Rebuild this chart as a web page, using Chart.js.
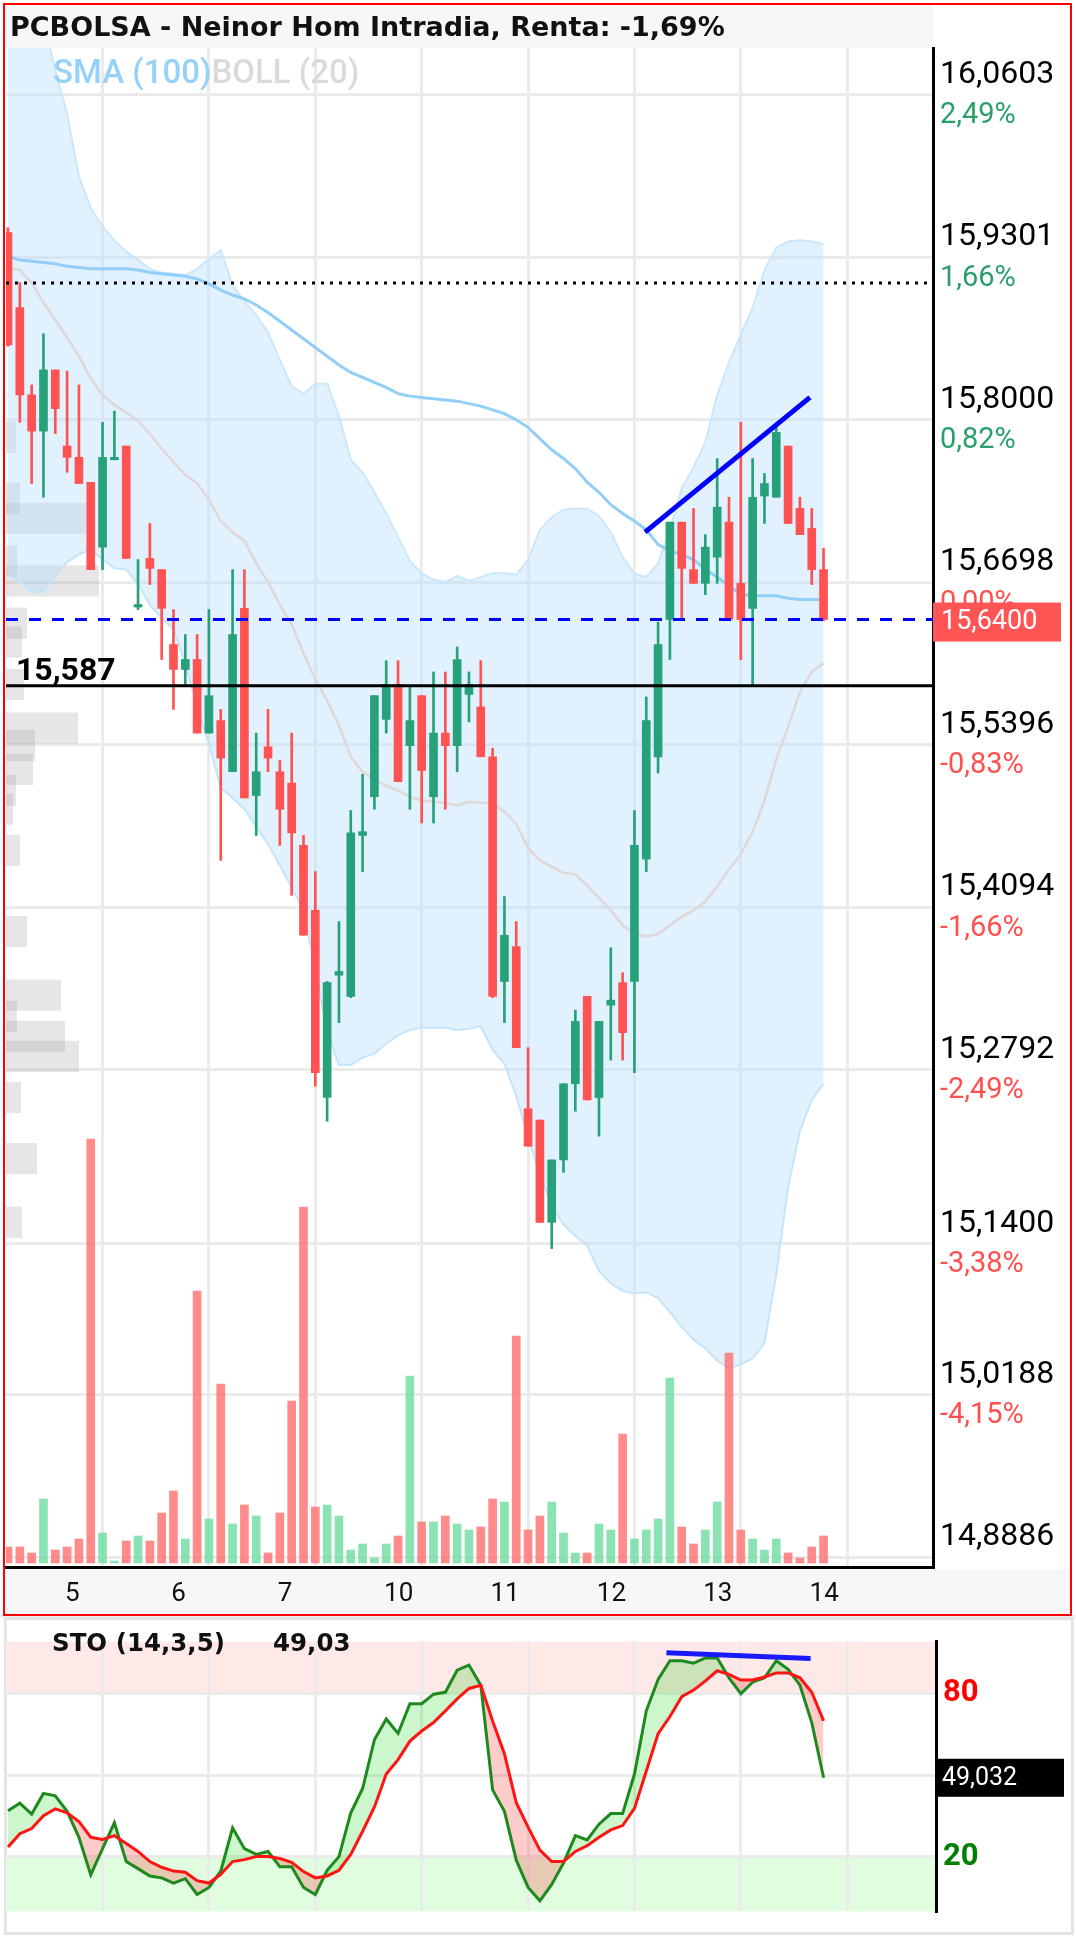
<!DOCTYPE html>
<html>
<head>
<meta charset="utf-8">
<title>PCBOLSA - Neinor Hom Intradia</title>
<script src="https://cdn.jsdelivr.net/npm/chart.js@4.4.1/dist/chart.umd.min.js"></script>
<style>
  html, body { margin: 0; padding: 0; background: #fff; }
  body { width: 1076px; height: 1937px; position: relative; overflow: hidden; font-family: Roboto, "Noto Sans", sans-serif; }
  .abs { position: absolute; }
  #titlebar { left: 5px; top: 5px; width: 928px; height: 43px; background: #f7f7f7; }
  #xstrip { left: 5px; top: 1569px; width: 1066px; height: 46px; background: #f7f7f7; }
  #gap { left: 0; top: 1615px; width: 1076px; height: 3px; background: #efefef; }
  #stoframe { left: 4px; top: 1617px; width: 1070px; height: 318px; box-sizing: border-box; border: 3px solid #e4e4e4; background: #fff; }
  #redframe { left: 3px; top: 3px; width: 1069px; height: 1613px; box-sizing: border-box; border: 2px solid #ff0000; z-index: 5; pointer-events: none; }
  #title { left: 10px; top: 9px; font-family: "DejaVu Sans", sans-serif; font-size: 27px; font-weight: bold; color: #111; line-height: 36px; white-space: nowrap; z-index: 6; }
  #legend { left: 53px; top: 52px; font-size: 33px; font-weight: 500; line-height: 40px; white-space: nowrap; z-index: 6; }
  #legend .sma { color: #96d1f8; }
  #legend .boll { color: #dadada; }
  #stolabel, #stoval { top: 1628px; font-family: "DejaVu Sans", sans-serif; font-size: 24.5px; font-weight: bold; line-height: 30px; color: #111; white-space: nowrap; z-index: 6; }
  #stolabel { left: 52px; }
  #stoval { left: 273px; }
  canvas { z-index: 2; }
</style>
</head>
<body>
<div id="titlebar" class="abs"></div>
<div id="xstrip" class="abs"></div>
<div id="gap" class="abs"></div>
<div id="stoframe" class="abs"></div>
<canvas id="main" class="abs" width="1076" height="1616" style="left:0;top:0"></canvas>
<canvas id="sto" class="abs" width="1076" height="321" style="left:0;top:1616px"></canvas>
<div id="redframe" class="abs"></div>
<div id="title" class="abs">PCBOLSA - Neinor Hom Intradia, Renta: -1,69%</div>
<div id="legend" class="abs"><span class="sma">SMA (100)</span><span class="boll">BOLL (20)</span></div>
<div id="stolabel" class="abs">STO (14,3,5)</div>
<div id="stoval" class="abs"></div>
<script>
// ---- hourly candles, days 4 (tail) .. 14 ----
const candleOpen = [15.950,15.890,15.820,15.791,15.840,15.779,15.770,15.750,15.698,15.768,
  15.779,15.650,15.689,15.680,15.620,15.600,15.608,15.549,15.559,15.518,
  15.649,15.499,15.538,15.518,15.509,15.459,15.407,15.257,15.355,15.338,
  15.467,15.498,15.560,15.588,15.539,15.579,15.498,15.549,15.539,15.580,
  15.570,15.530,15.350,15.378,15.248,15.239,15.157,15.207,15.268,15.338,
  15.257,15.331,15.349,15.350,15.448,15.530,15.640,15.718,15.680,15.669,
  15.690,15.718,15.669,15.649,15.739,15.738,15.779,15.729,15.713,15.680];
const candleHigh = [15.954,15.910,15.828,15.869,15.840,15.839,15.828,15.750,15.798,15.807,
  15.779,15.688,15.717,15.680,15.648,15.628,15.628,15.648,15.568,15.680,
  15.680,15.549,15.568,15.527,15.549,15.467,15.438,15.350,15.398,15.487,
  15.516,15.579,15.607,15.607,15.587,15.579,15.598,15.598,15.618,15.598,
  15.607,15.537,15.418,15.398,15.297,15.239,15.207,15.268,15.327,15.338,
  15.318,15.377,15.357,15.487,15.578,15.638,15.718,15.718,15.729,15.708,
  15.769,15.738,15.798,15.769,15.757,15.797,15.779,15.738,15.729,15.697];
const candleLow = [15.859,15.798,15.749,15.738,15.789,15.758,15.749,15.680,15.680,15.768,
  15.689,15.648,15.668,15.608,15.568,15.587,15.549,15.549,15.447,15.518,
  15.497,15.467,15.518,15.459,15.419,15.387,15.266,15.238,15.317,15.337,
  15.438,15.488,15.549,15.510,15.488,15.477,15.477,15.488,15.518,15.558,
  15.530,15.337,15.317,15.297,15.218,15.157,15.136,15.197,15.246,15.255,
  15.226,15.287,15.287,15.277,15.438,15.517,15.608,15.640,15.669,15.660,
  15.669,15.640,15.608,15.588,15.717,15.738,15.717,15.708,15.668,15.639];
const candleClose = [15.860,15.820,15.791,15.840,15.809,15.770,15.749,15.680,15.770,15.770,
  15.689,15.652,15.681,15.649,15.600,15.608,15.549,15.579,15.529,15.628,
  15.497,15.518,15.529,15.488,15.469,15.387,15.277,15.349,15.358,15.469,
  15.470,15.579,15.588,15.510,15.559,15.519,15.549,15.539,15.608,15.588,
  15.530,15.338,15.387,15.297,15.218,15.157,15.207,15.268,15.318,15.255,
  15.318,15.335,15.309,15.459,15.559,15.620,15.718,15.681,15.669,15.698,
  15.730,15.640,15.640,15.738,15.749,15.790,15.717,15.708,15.680,15.640];
const volume = [4000,4000,2500,16000,3250,4000,6000,106000,7500,500,
  5500,6750,5500,12500,18000,6000,68000,11000,44750,9750,
  14500,11750,2500,12500,40500,89000,14000,14500,11750,3250,
  4750,1250,4750,6750,46750,10250,10250,11750,9750,8250,
  9000,16000,15250,56750,8250,11750,15250,7500,2500,2500,
  9750,8250,32250,6000,8250,11000,46250,9000,4750,8250,
  15250,52500,8250,6000,3250,6000,2500,1250,4000,6750];

// ---- indicators ----
const sma100 = [15.931,15.928,15.927,15.926,15.925,15.923,15.922,15.921,15.921,15.921,
  15.921,15.920,15.918,15.917,15.916,15.915,15.913,15.909,15.904,15.900,
  15.897,15.892,15.886,15.879,15.872,15.865,15.858,15.851,15.844,15.838,
  15.834,15.830,15.826,15.821,15.819,15.818,15.817,15.816,15.815,15.813,
  15.811,15.808,15.805,15.800,15.794,15.785,15.776,15.769,15.761,15.750,
  15.742,15.732,15.725,15.719,15.712,15.700,15.695,15.692,15.688,15.680,
  15.674,15.667,15.660,15.659,15.659,15.659,15.657,15.656,15.656,15.656];
const bollUpper = [16.160,16.150,16.140,16.120,16.080,16.045,15.995,15.970,15.955,15.944,
  15.935,15.928,15.921,15.918,15.917,15.916,15.921,15.929,15.936,15.908,
  15.895,15.884,15.870,15.848,15.827,15.821,15.829,15.829,15.803,15.768,
  15.758,15.742,15.725,15.706,15.687,15.677,15.672,15.670,15.675,15.671,
  15.674,15.677,15.677,15.676,15.688,15.712,15.722,15.728,15.729,15.729,
  15.723,15.710,15.690,15.677,15.674,15.685,15.712,15.745,15.762,15.782,
  15.820,15.846,15.868,15.890,15.920,15.938,15.943,15.944,15.943,15.941];
const bollMid = [15.921,15.920,15.910,15.894,15.880,15.866,15.851,15.833,15.820,15.812,
  15.806,15.799,15.789,15.777,15.766,15.756,15.749,15.736,15.719,15.710,
  15.703,15.685,15.670,15.652,15.636,15.613,15.592,15.575,15.555,15.530,
  15.518,15.512,15.507,15.503,15.498,15.495,15.494,15.493,15.491,15.494,
  15.493,15.493,15.486,15.476,15.457,15.447,15.442,15.437,15.436,15.427,
  15.417,15.407,15.395,15.388,15.386,15.388,15.395,15.402,15.407,15.414,
  15.426,15.440,15.452,15.470,15.495,15.528,15.554,15.582,15.598,15.605];
const bollLower = [15.676,15.670,15.662,15.662,15.675,15.686,15.692,15.696,15.688,15.681,
  15.680,15.668,15.652,15.641,15.632,15.605,15.570,15.540,15.505,15.497,
  15.488,15.474,15.460,15.443,15.425,15.407,15.360,15.310,15.283,15.283,
  15.289,15.292,15.300,15.307,15.311,15.313,15.313,15.313,15.311,15.312,
  15.314,15.295,15.284,15.258,15.225,15.195,15.170,15.155,15.146,15.138,
  15.118,15.108,15.102,15.100,15.101,15.096,15.085,15.073,15.063,15.056,
  15.046,15.040,15.043,15.048,15.060,15.115,15.185,15.230,15.255,15.268];
const stoK = [36.9,39.7,35.7,43.3,42.4,36.7,27.2,13.4,23.0,32.5,
  18.3,15.7,13.0,12.3,10.4,12.0,6.2,8.8,14.8,30.6,
  23.0,20.9,22.0,16.4,16.4,8.8,6.2,15.1,20.1,36.2,
  45.1,63.0,70.6,65.3,76.2,76.2,79.7,80.4,88.5,90.4,
  83.0,44.6,36.7,18.8,8.8,3.9,9.9,17.8,27.8,26.2,
  32.0,35.9,35.9,50.4,73.6,85.1,92.0,92.0,91.1,93.0,
  93.0,85.7,79.9,84.1,85.7,92.0,88.8,83.0,69.3,49.032];
const stoD = [23.6,28.5,30.4,35.1,37.6,36.2,33.0,27.2,26.4,27.8,
  24.9,22.0,18.3,16.2,14.8,14.4,11.3,10.4,13.6,18.3,
  19.0,20.1,20.1,19.4,18.0,14.6,12.3,13.0,15.1,20.9,
  29.4,38.3,50.4,55.7,62.5,66.2,69.3,73.6,78.0,81.8,
  83.0,69.9,57.8,39.9,30.9,22.5,18.3,18.3,22.0,24.1,
  27.2,29.9,31.5,37.8,51.5,65.2,71.5,78.8,81.2,84.6,
  88.3,87.0,84.9,84.9,86.0,87.5,87.5,85.7,80.4,69.9];

// ---- volume at price (left profile) ----
const profilePrice = [15.786,15.737,15.721,15.687,15.671,15.637,15.622,15.588,15.553,15.539,
  15.520,15.503,15.488,15.455,15.390,15.339,15.322,15.306,15.290,15.257,15.208,15.157];
const profileVol = [10,14,80,11,93,21,16,18,72,29,27,10,7,14,21,55,11,59,73,15,31,16];
const profileStep = 0.025;

// ---- axes / annotations ----
const priceTicks = [16.0603,15.9301,15.8000,15.6698,15.5396,15.4094,15.2792,15.1400,15.0188,14.8886];
const pctLabels = ['2,49%','1,66%','0,82%','0,00%','-0,83%','-1,66%','-2,49%','-3,38%','-4,15%',''];
const gridIdx = [8,17,26,35,44,53,62,71];
const dayStart = [6,15,24,33,42,51,60,69];
const dayLabels = ['5','6','7','10','11','12','13','14'];
const levelDotted = 15.9096;
const levelLast = 15.640;
const levelSupport = 15.587;
const trendX = [53.9, 67.85];
const trendY = [15.710, 15.818];
const stoTrendX = [55.7, 67.9];
const stoTrendY = [94.9, 92.8];
const stoTicks = [20, 50, 80];

const UP = '#26a17a', DOWN = '#ff5252';
const VOL_UP = 'rgba(110,220,160,0.8)', VOL_DOWN = 'rgba(255,110,110,0.8)';
const PCT_UP = '#2a9e6c', PCT_DOWN = '#ff4f4f';

Chart.defaults.font.family = 'Roboto';
Chart.defaults.color = '#000';

const xy = arr => arr.map((v, i) => ({ x: i, y: v }));
const fmt4 = v => v.toFixed(4).replace('.', ',');
const isUp = i => candleClose[i] >= candleOpen[i];
const candleColors = candleOpen.map((o, i) => isUp(i) ? UP : DOWN);
const volColors = candleOpen.map((o, i) => isUp(i) ? VOL_UP : VOL_DOWN);

const mainDecor = {
  id: 'mainDecor',
  beforeDatasetsDraw(chart) {
    const { ctx, chartArea: a, scales: { y, xp } } = chart;
    ctx.save();
    ctx.beginPath();
    ctx.rect(a.left, a.top, a.right - a.left, a.bottom - a.top);
    ctx.clip();
    ctx.fillStyle = 'rgba(140,140,140,0.22)';
    profilePrice.forEach((p, k) => {
      const top = y.getPixelForValue(p + profileStep / 2);
      const bottom = y.getPixelForValue(p - profileStep / 2);
      const w = xp.getPixelForValue(profileVol[k]) - xp.getPixelForValue(0);
      ctx.fillRect(a.left, top, w, bottom - top);
    });
    ctx.restore();
  },
  afterDatasetsDraw(chart) {
    const { ctx, chartArea: a, scales: { y } } = chart;
    const hline = (v, color, dash, width) => {
      const py = y.getPixelForValue(v);
      ctx.save();
      ctx.strokeStyle = color;
      ctx.lineWidth = width;
      ctx.setLineDash(dash);
      ctx.beginPath();
      ctx.moveTo(a.left, py);
      ctx.lineTo(a.right, py);
      ctx.stroke();
      ctx.restore();
      return py;
    };
    hline(levelDotted, '#000', [3, 6], 3);
    const pyLast = hline(levelLast, '#0000ff', [12, 11], 3);
    const pySup = hline(levelSupport, '#000', [], 3);

    ctx.save();
    // percentage change under each price tick
    ctx.font = '29px Roboto';
    ctx.textAlign = 'left';
    ctx.textBaseline = 'middle';
    priceTicks.forEach((v, k) => {
      const t = pctLabels[k];
      if (!t) return;
      ctx.fillStyle = (t.startsWith('-') || t === '0,00%') ? PCT_DOWN : PCT_UP;
      ctx.fillText(t, a.right + 7, y.getPixelForValue(v) + 21);
    });

    ctx.fillStyle = '#000';
    ctx.font = 'bold 32px Roboto';
    ctx.textBaseline = 'alphabetic';
    ctx.fillText(levelSupport.toFixed(3).replace('.', ','), 16, pySup - 6);

    // last price tag
    ctx.fillStyle = '#ff5555';
    ctx.fillRect(a.right, pyLast - 17, 128, 39);
    ctx.fillStyle = '#fff';
    ctx.font = '27px Roboto';
    ctx.textBaseline = 'middle';
    ctx.fillText(fmt4(candleClose[candleClose.length - 1]), a.right + 8, pyLast + 3);
    ctx.restore();
  }
};

const priceMin = 14.88081, priceMax = 16.09796;
const xMin = -0.17, xMax = 78.26;

new Chart(document.getElementById('main'), {
  type: 'line',
  data: {
    datasets: [
      { type: 'line', label: 'BOLL sup', data: xy(bollUpper), borderColor: '#cbe7fb', borderWidth: 2,
        pointRadius: 0, fill: { target: '+1' }, backgroundColor: 'rgba(180,220,250,0.4)', order: 9 },
      { type: 'line', label: 'BOLL inf', data: xy(bollLower), borderColor: '#cbe7fb', borderWidth: 2,
        pointRadius: 0, fill: false, order: 9 },
      { type: 'bar', label: 'Volumen', data: xy(volume), yAxisID: 'yv', backgroundColor: volColors,
        barThickness: 8, grouped: false, order: 7 },
      { type: 'line', label: 'BOLL (20)', data: xy(bollMid), borderColor: '#e0d8d8', borderWidth: 2.5,
        pointRadius: 0, fill: false, order: 6 },
      { type: 'line', label: 'SMA (100)', data: xy(sma100), borderColor: '#92cff8', borderWidth: 3,
        pointRadius: 0, fill: false, order: 5 },
      { type: 'bar', label: 'mecha', data: candleLow.map((l, i) => ({ x: i, y: [l, candleHigh[i]] })),
        backgroundColor: candleColors, barThickness: 2, grouped: false, order: 4 },
      { type: 'bar', label: 'cuerpo', data: candleOpen.map((o, i) => ({ x: i, y: [o, candleClose[i]] })),
        backgroundColor: candleColors, barThickness: 8, grouped: false, order: 3 },
      { type: 'line', label: 'tendencia', data: trendX.map((x, k) => ({ x, y: trendY[k] })),
        borderColor: '#0000ff', borderWidth: 5, pointRadius: 0, fill: false, order: 1 }
    ]
  },
  options: {
    responsive: false,
    animation: false,
    devicePixelRatio: 1,
    layout: { padding: { left: 6, top: 48, right: 0, bottom: 0 } },
    plugins: { legend: { display: false }, tooltip: { enabled: false } },
    scales: {
      x: {
        type: 'linear', position: 'bottom', min: xMin, max: xMax, offset: false, weight: 0,
        afterBuildTicks: s => { s.ticks = gridIdx.map(v => ({ value: v })); },
        afterFit: s => { s.height = 0; },
        ticks: { display: false },
        grid: { color: '#ebebeb', lineWidth: 3, drawTicks: false, offset: false },
        border: { display: true, color: '#000', width: 3 }
      },
      xl: {
        type: 'linear', position: 'bottom', min: xMin, max: xMax, offset: false, weight: 1,
        afterBuildTicks: s => { s.ticks = dayStart.map(v => ({ value: v })); },
        afterFit: s => { s.height = 49; },
        ticks: { align: 'start', labelOffset: -14, padding: 12, color: '#111', autoSkip: false, maxRotation: 0,
          font: { size: 26 }, callback: (v, i) => dayLabels[i] },
        grid: { display: false, drawTicks: false },
        border: { display: false }
      },
      xp: { type: 'linear', display: false, min: 0, max: 927 },
      y: {
        type: 'linear', position: 'right', min: priceMin, max: priceMax, weight: 1, beginAtZero: false,
        afterBuildTicks: s => { s.ticks = priceTicks.map(v => ({ value: v })); },
        afterFit: s => { s.width = 143; },
        ticks: { labelOffset: -20, padding: 7, color: '#000', autoSkip: false, font: { size: 32 }, callback: v => fmt4(v) },
        grid: { color: '#ebebeb', lineWidth: 3, drawTicks: false },
        border: { display: true, color: '#000', width: 3 }
      },
      yv: { type: 'linear', display: false, min: -1000, max: 378750, beginAtZero: false }
    }
  },
  plugins: [mainDecor]
});

// ---- stochastic panel ----
const stoDecor = {
  id: 'stoDecor',
  beforeDraw(chart) {
    const { ctx, chartArea: a, scales: { y } } = chart;
    const y80 = y.getPixelForValue(80), y20 = y.getPixelForValue(20);
    ctx.save();
    ctx.fillStyle = '#ffe8e8';
    ctx.fillRect(a.left, a.top, a.right - a.left, y80 - a.top);
    ctx.fillStyle = '#e0fde0';
    ctx.fillRect(a.left, y20, a.right - a.left, a.bottom - y20);
    ctx.restore();
  },
  afterDatasetsDraw(chart) {
    const { ctx, chartArea: a, scales: { y } } = chart;
    const last = stoK[stoK.length - 1];
    const py = y.getPixelForValue(last);
    ctx.save();
    ctx.fillStyle = '#000';
    ctx.fillRect(a.right, py - 19, 128, 38);
    ctx.fillStyle = '#fff';
    ctx.font = '25px Roboto';
    ctx.textBaseline = 'middle';
    ctx.textAlign = 'left';
    ctx.fillText(last.toFixed(3).replace('.', ','), a.right + 6, py + 1);
    ctx.restore();
  }
};

document.getElementById('stoval').textContent = stoK[stoK.length - 1].toFixed(2).replace('.', ',');

new Chart(document.getElementById('sto'), {
  type: 'line',
  data: {
    datasets: [
      { label: '%K', data: xy(stoK), borderColor: '#1e8a1e', borderWidth: 3, pointRadius: 0,
        fill: { target: 1, above: 'rgba(0,210,0,0.2)', below: 'rgba(255,0,0,0.2)' }, order: 3 },
      { label: '%D', data: xy(stoD), borderColor: '#ff1414', borderWidth: 3, pointRadius: 0, fill: false, order: 2 },
      { label: 'tendencia', data: stoTrendX.map((x, k) => ({ x, y: stoTrendY[k] })), borderColor: '#1a1aff',
        borderWidth: 5, pointRadius: 0, fill: false, order: 1 }
    ]
  },
  options: {
    responsive: false,
    animation: false,
    devicePixelRatio: 1,
    layout: { padding: { left: 6, top: 4, right: 0, bottom: 4 } },
    plugins: { legend: { display: false }, tooltip: { enabled: false } },
    scales: {
      x: {
        type: 'linear', position: 'bottom', min: xMin, max: 78.51, offset: false,
        afterBuildTicks: s => { s.ticks = gridIdx.map(v => ({ value: v })); },
        afterFit: s => { s.height = 0; },
        ticks: { display: false },
        grid: { color: '#ebebeb', lineWidth: 3, drawTicks: false },
        border: { display: false }
      },
      y: {
        type: 'linear', position: 'right', min: 0, max: 99,
        afterBuildTicks: s => { s.ticks = stoTicks.map(v => ({ value: v })); },
        afterFit: s => { s.width = 140; },
        ticks: { padding: 7, autoSkip: false, font: { size: 31, weight: 'bold' },
          color: c => c.tick && c.tick.value === 80 ? '#ff0000' : '#008000',
          callback: v => v === 50 ? '' : String(v) },
        grid: { color: '#ebebeb', lineWidth: 3, drawTicks: false },
        border: { display: true, color: '#000', width: 3 }
      }
    }
  },
  plugins: [stoDecor]
});
</script>
</body>
</html>
